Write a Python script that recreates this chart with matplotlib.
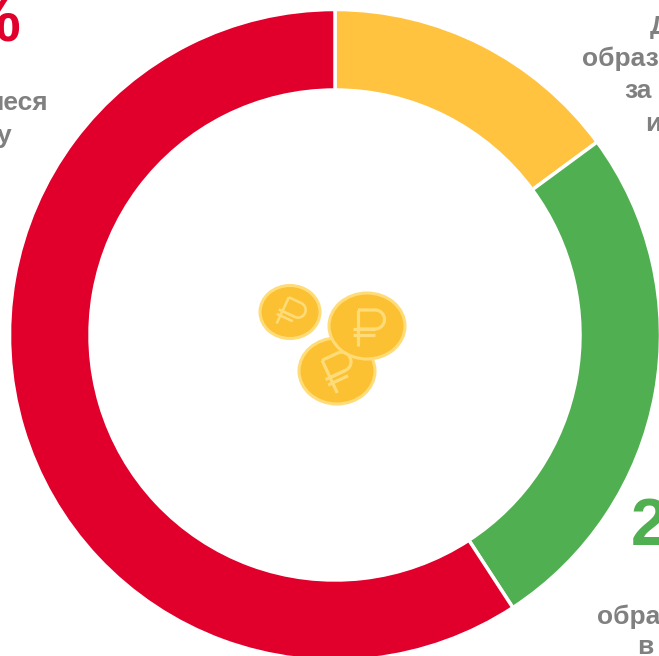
import numpy as np
import matplotlib
matplotlib.use("Agg")
import matplotlib.pyplot as plt
from matplotlib.patches import Ellipse

plt.rcParams['font.family'] = ['Liberation Sans', 'DejaVu Sans']

# datos del anillo
shares = [14.9, 25.9, 59.2]
colors = ['#FFC340', '#50AF50', '#E0002B']

W, H = 659, 656

fig = plt.figure(figsize=(W / 100, H / 100), dpi=100)
ax = fig.add_axes([0, 0, 1, 1])


def yy(y):
    # pixeles desde arriba -> datos
    return H - y


ax.pie(shares, colors=colors, startangle=90, counterclock=False,
       center=(335, yy(335)), radius=325.5, frame=False,
       wedgeprops=dict(width=80.5, edgecolor='white', linewidth=2.5))
ax.set_xlim(0, W)
ax.set_ylim(0, H)
ax.set_aspect('auto')
ax.axis('off')


# monedas del centro
def moneda(cx, cy, rx, ry, ang, z):
    ax.add_patch(Ellipse((cx, yy(cy)), 2 * rx, 2 * ry, facecolor='#FBC132',
                         edgecolor='#FFDC78', linewidth=2.2, zorder=z))
    s = ry / 33
    t = np.linspace(np.pi / 2, -np.pi / 2, 30)
    # signo del rublo, coordenadas locales
    trazos = [
        ([-9, -9], [-20, 16]),
        (np.r_[-9, 8 + 9.5 * np.cos(t), -9], np.r_[16, 6.5 + 9.5 * np.sin(t), -3]),
        ([-14, 8], [-3, -3]),
        ([-14, 8], [-9, -9]),
    ]
    a = np.radians(ang)
    for px, py in trazos:
        px, py = np.asarray(px, float) * s, np.asarray(py, float) * s
        qx = cx + px * np.cos(a) - py * np.sin(a)
        qy = yy(cy) + px * np.sin(a) + py * np.cos(a)
        ax.plot(qx, qy, color='#FFDC78', lw=2.3 * s, zorder=z + 0.1,
                solid_capstyle='butt')


moneda(337, 371, 38, 33, 25, 5)
moneda(367, 326, 38, 33, 0, 6)
moneda(290, 312, 30, 26.5, -25, 7)

# textos, cortados por el borde de la figura
gris = '#808080'
for x, y, s in [(650, 27, 'Д'), (582, 59, 'образ'), (624, 91, 'за'), (645, 124, 'и'),
                (597, 617, 'обра'), (637, 647, 'в')]:
    ax.text(x, yy(y), s, color=gris, fontsize=19, fontweight='bold',
            ha='left', va='center')
ax.text(48, yy(103), 'иеся', color=gris, fontsize=19, fontweight='bold',
        ha='right', va='center')
ax.text(11, yy(136), 'у', color=gris, fontsize=19, fontweight='bold',
        ha='right', va='center')
ax.text(21, yy(41), '59%', color='#E0002B', fontsize=46, fontweight='bold',
        ha='right', va='baseline')
ax.text(631, yy(545), '26%', color='#50AF50', fontsize=48, fontweight='bold',
        ha='left', va='baseline')

fig.savefig('out.png', dpi=100)
